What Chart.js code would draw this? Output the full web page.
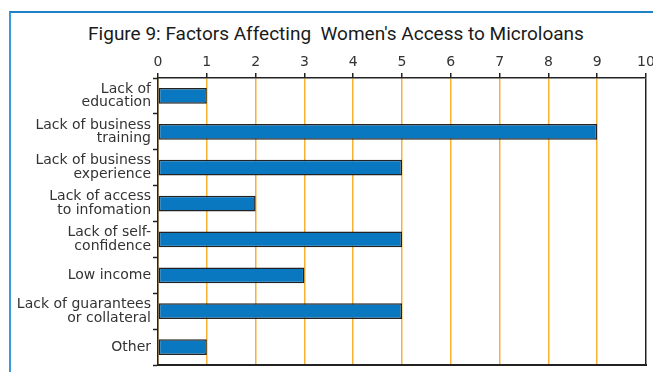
<!DOCTYPE html>
<html>
<head>
<meta charset="utf-8">
<script src="https://cdn.jsdelivr.net/npm/chart.js@4"></script>
<style>
  html, body { margin: 0; padding: 0; background: #fff; }
  #wrap { position: relative; width: 653px; height: 372px; overflow: hidden; }
  #frame {
    position: absolute; left: 9px; top: 11px; right: -4px; bottom: -4px;
    border-left: 2px solid #3a9ad9; border-top: 2px solid #1f82c6;
  }
  #title {
    position: absolute; left: 0; top: 22px; width: 672px; text-align: center;
    font-family: Roboto, sans-serif; font-size: 19px; color: #1a1a1a;
    white-space: pre;
  }
  #chart { position: absolute; left: 0; top: 0; }
</style>
</head>
<body>
<div id="wrap">
  <div id="frame"></div>
  <div id="title">Figure 9: Factors Affecting  Women's Access to Microloans</div>
  <canvas id="chart" width="653" height="372"></canvas>
</div>
<script>
// Factors and counts
const categories = [
    ['Lack of', 'education'],
    ['Lack of business', 'training'],
    ['Lack of business', 'experience'],
    ['Lack of access', 'to infomation'],
    ['Lack of self-', 'confidence'],
    'Low income',
    ['Lack of guarantees', 'or collateral'],
    'Other'
];
const counts = [1, 9, 5, 2, 5, 3, 5, 1];
const axisTicks = [0, 1, 2, 3, 4, 5, 6, 7, 8, 9, 10];

const labelFont = { family: "'DejaVu Sans', sans-serif", size: 14 };

// drop the extra room Chart.js keeps for half-labels at the axis ends
function noEdgePadding(scale) {
    scale.paddingLeft = 0;
    scale.paddingRight = 0;
    scale.paddingTop = 0;
    scale.paddingBottom = 0;
}

// closing line along the bottom of the plot
const bottomEdge = {
    id: 'bottomEdge',
    afterDraw(chart) {
        const { ctx, chartArea } = chart;
        const y = Math.round(chartArea.bottom);
        ctx.save();
        ctx.strokeStyle = '#222';
        ctx.lineWidth = 2;
        ctx.beginPath();
        ctx.moveTo(chartArea.left - 1, y);
        ctx.lineTo(chartArea.right + 1, y);
        ctx.stroke();
        ctx.restore();
    }
};

new Chart(document.getElementById('chart'), {
    type: 'bar',
    data: {
        labels: categories,
        datasets: [{
            data: counts,
            backgroundColor: '#0a78c0',
            borderColor: '#222',
            borderWidth: 1.5,
            borderSkipped: false,
            categoryPercentage: 1,
            barPercentage: 0.44
        }]
    },
    options: {
        indexAxis: 'y',
        responsive: false,
        animation: false,
        layout: { padding: { top: 50, right: 7, bottom: 7, left: 0 } },
        plugins: {
            legend: { display: false },
            tooltip: { enabled: false }
        },
        scales: {
            x: {
                position: 'top',
                min: 0,
                max: 10,
                afterBuildTicks: scale => {
                    scale.ticks = axisTicks.map(v => ({ value: v }));
                },
                afterFit: scale => { scale.height = 28; noEdgePadding(scale); },
                border: { color: '#222', width: 1.5 },
                grid: {
                    color: ctx => (ctx.tick && ctx.tick.value === 10) ? '#222' : '#f7b233',
                    lineWidth: 1.5,
                    tickColor: '#222',
                    tickLength: 5
                },
                ticks: {
                    color: '#333',
                    font: labelFont,
                    padding: 2,
                    maxRotation: 0
                }
            },
            y: {
                afterFit: scale => { scale.width = 158; noEdgePadding(scale); },
                border: { color: '#222', width: 1.5 },
                grid: {
                    offset: true,
                    drawOnChartArea: false,
                    tickColor: '#222',
                    tickWidth: 1.5,
                    tickLength: 5
                },
                ticks: {
                    color: '#333',
                    font: { ...labelFont, lineHeight: 0.98 },
                    padding: 2
                }
            }
        }
    },
    plugins: [bottomEdge]
});
</script>
</body>
</html>
